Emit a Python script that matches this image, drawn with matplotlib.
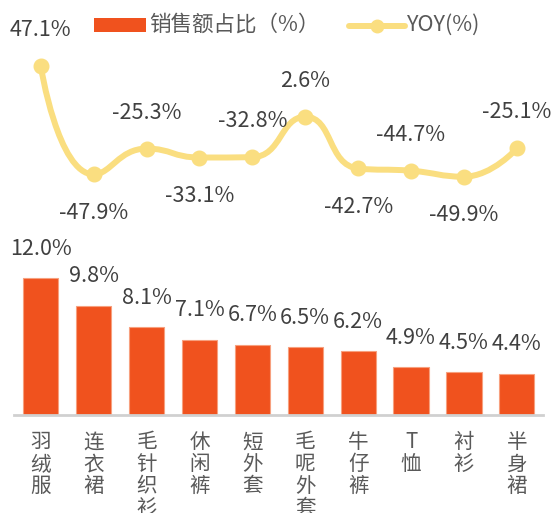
import numpy as np
import matplotlib
matplotlib.use("Agg")
import matplotlib.pyplot as plt
from matplotlib.path import Path
from matplotlib.patches import PathPatch, Rectangle
from matplotlib.lines import Line2D

plt.rcParams['font.family'] = ['Noto Sans CJK SC', 'DejaVu Sans']
plt.rcParams['font.weight'] = 'light'

categories = ["羽绒服", "连衣裙", "毛针织衫", "休闲裤", "短外套", "毛呢外套", "牛仔裤", "T恤", "衬衫", "半身裙"]
share = [12.0, 9.8, 8.1, 7.1, 6.7, 6.5, 6.2, 4.9, 4.5, 4.4]
yoy = [47.1, -47.9, -25.3, -33.1, -32.8, 2.6, -42.7, -44.7, -49.9, -25.1]
yoy_label_pos = ['top', 'bottom', 'top', 'bottom', 'top', 'top', 'bottom', 'top', 'bottom', 'top']

BAR_COLOR = '#F0521E'
BAR_EDGE = '#F7A07E'
LINE_COLOR = '#FADE80'
TEXT_DARK = '#404040'
TEXT_GRAY = '#595959'

W, H = 553, 513
fig = plt.figure(figsize=(W / 100, H / 100), dpi=100)

def fx(px):
    return px / W

def fy(py):
    return 1 - py / H

base_px = 415.3
ax = fig.add_axes([fx(14.25), fy(base_px), fx(543.3) - fx(14.25), base_px / H])
ax2 = ax.twinx()
ax2.set_position(ax.get_position())

x = np.arange(len(categories))
ax.bar(x, share, width=0.665, bottom=0, color=BAR_COLOR, edgecolor=BAR_EDGE, linewidth=0.8, zorder=2)
ax.set_xlim(-0.5, len(categories) - 0.5)
ax.set_ylim(1.084, 1.084 + base_px / 12.55)

for s in ['top', 'right', 'left']:
    ax.spines[s].set_visible(False)
    ax2.spines[s].set_visible(False)
ax2.spines['bottom'].set_visible(False)
ax.spines['bottom'].set_color('#D0D0D0')
ax.spines['bottom'].set_linewidth(2.0)
ax.set_yticks([])
ax2.set_yticks([])
ax.set_xticks(x)
ax.set_xticklabels(['\n'.join(c) for c in categories], fontsize=14.8, color=TEXT_GRAY, linespacing=1.0)
ax.tick_params(axis='x', length=0, pad=11.5)

for xi, v in zip(x, share):
    ax.annotate(f"{v:.1f}%", (xi, v), xytext=(0, 21.2), textcoords='offset points',
                ha='center', va='center', fontsize=15.5, color=TEXT_DARK, zorder=5)

# line axis
ax2.set_ylim(47.1 - (base_px - 66) / 1.141, 47.1 + 66 / 1.141)
ax2.set_xlim(-0.5, len(categories) - 0.5)

# smooth curve (ECharts-like bezier smoothing) computed in display space
pts = ax2.transData.transform(np.column_stack([x, yoy]))
xs, ys = pts[:, 0], pts[:, 1]
smooth = 0.5
verts = [(xs[0], ys[0])]
codes = [Path.MOVETO]
cp0 = (xs[0], ys[0])
n = len(xs)
for i in range(1, n):
    cx, cy = xs[i], ys[i]
    px_, py_ = xs[i - 1], ys[i - 1]
    if i == n - 1:
        cp1 = (cx, cy)
        ncp0 = None
    else:
        nx, ny = xs[i + 1], ys[i + 1]
        vx, vy = nx - px_, ny - py_
        d0 = np.hypot(cx - px_, cy - py_)
        d1 = np.hypot(nx - cx, ny - cy)
        r = d1 / (d0 + d1)
        n0x = cx + vx * smooth * r
        n0y = cy + vy * smooth * r
        n0x = min(max(n0x, min(nx, cx)), max(nx, cx))
        n0y = min(max(n0y, min(ny, cy)), max(ny, cy))
        vx, vy = n0x - cx, n0y - cy
        c1x = cx - vx * d0 / d1
        c1y = cy - vy * d0 / d1
        c1x = min(max(c1x, min(px_, cx)), max(px_, cx))
        c1y = min(max(c1y, min(py_, cy)), max(py_, cy))
        vx, vy = cx - c1x, cy - c1y
        n0x = cx + vx * d1 / d0
        n0y = cy + vy * d1 / d0
        cp1 = (c1x, c1y)
        ncp0 = (n0x, n0y)
    verts += [cp0, cp1, (cx, cy)]
    codes += [Path.CURVE4] * 3
    cp0 = ncp0
verts_data = ax2.transData.inverted().transform(np.array(verts))
patch = PathPatch(Path(verts_data, codes), facecolor='none', edgecolor=LINE_COLOR,
                  linewidth=4.3, capstyle='round', joinstyle='round', transform=ax2.transData, zorder=3)
ax2.add_patch(patch)
ax2.plot(x, yoy, linestyle='none', marker='o', markersize=10.5, color=LINE_COLOR, zorder=4)

for xi, v, pos in zip(x, yoy, yoy_label_pos):
    off = 25.9 if pos == 'top' else -27.9
    ax2.annotate(f"{v:.1f}%", (xi, v), xytext=(0, off), textcoords='offset points',
                 ha='center', va='center', fontsize=15.5, color=TEXT_DARK, zorder=5)

# legend
fig.add_artist(Rectangle((fx(94), fy(32.3)), fx(51.7), 14 / H, transform=fig.transFigure,
                         facecolor=BAR_COLOR, edgecolor='none'))
fig.text(fx(149), fy(25), "销售额占比（%）", fontsize=15.5, color=TEXT_GRAY, ha='left', va='center')
fig.add_artist(Line2D([fx(349), fx(405)], [fy(26), fy(26)], transform=fig.transFigure,
                      color=LINE_COLOR, linewidth=4.3, solid_capstyle='round'))
fig.add_artist(Line2D([fx(377)], [fy(26)], transform=fig.transFigure, marker='o',
                      markersize=9, color=LINE_COLOR, linestyle='none'))
fig.text(fx(407), fy(25), "YOY(%)", fontsize=15.5, color=TEXT_GRAY, ha='left', va='center')

fig.savefig("out.png", dpi=100)
